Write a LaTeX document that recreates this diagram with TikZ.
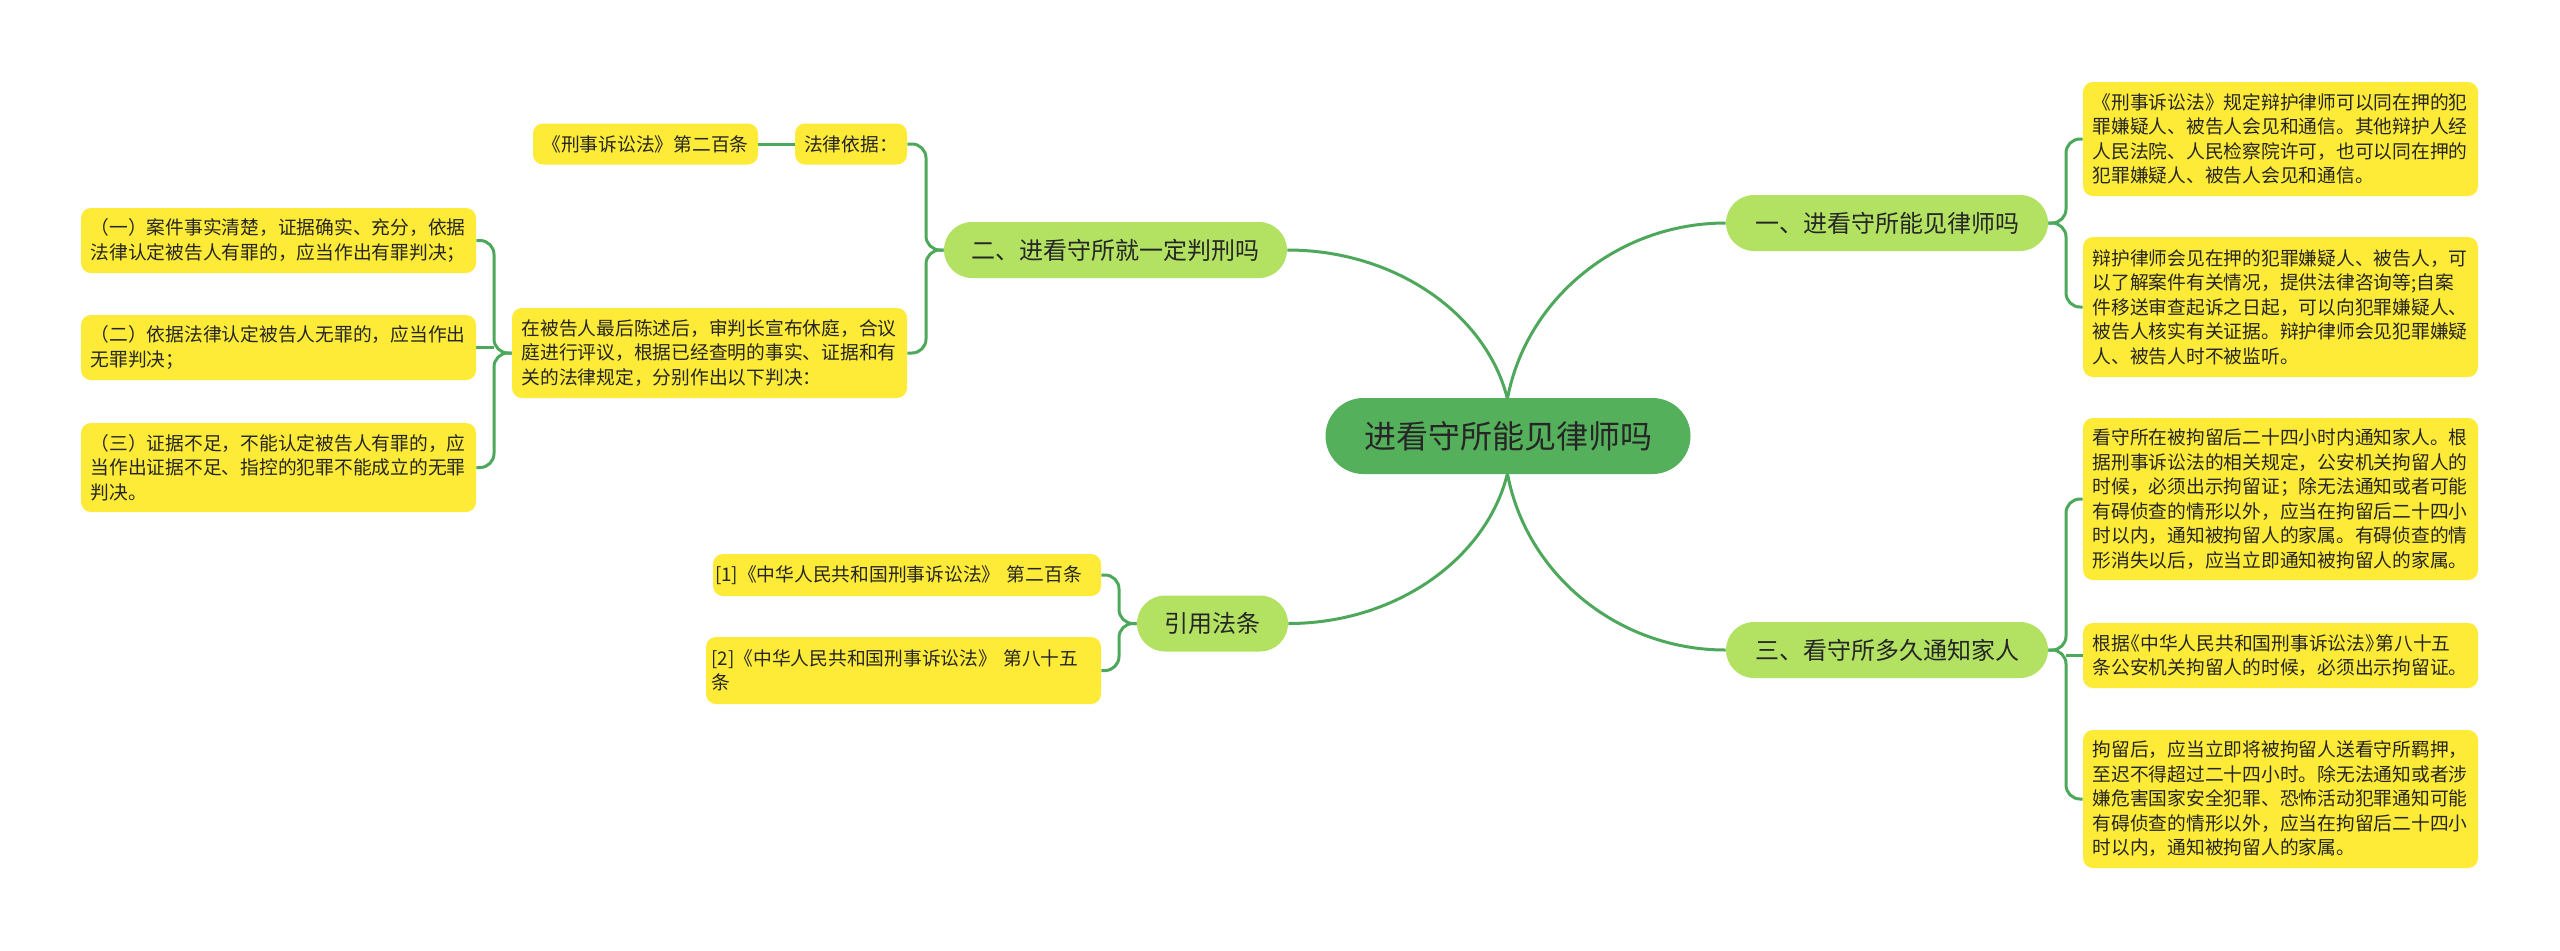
\documentclass[tikz,border=0pt]{standalone}
\usepackage{fontspec}
\setmainfont{Noto Sans CJK SC}
\usetikzlibrary{backgrounds}
\definecolor{leafY}{HTML}{FDEB37}
\definecolor{lvA}{HTML}{B3E263}
\definecolor{rootG}{HTML}{55B05C}
\definecolor{lineG}{HTML}{4EA85B}
\definecolor{txt}{HTML}{262626}
\newcommand\lbk{\makebox[0.55em][r]{《}}
\newcommand\rbk{\makebox[0.55em][l]{》}}
\newcommand\fleaf{\fontsize{9.375pt}{12.25pt}\selectfont}
\newcommand\flv{\fontsize{12pt}{14pt}\selectfont}
\newcommand\froot{\fontsize{16pt}{19pt}\selectfont}
\begin{document}
\begin{tikzpicture}[x=0.5pt,y=-0.5pt,
  root/.style={fill=rootG, rounded corners=19pt, minimum height=38pt, minimum width=182.5pt, inner sep=0pt, font=\froot, text=txt},
  lv/.style={fill=lvA, rounded corners=14pt, minimum height=28pt, inner sep=0pt, font=\flv, text=txt},
  leaf/.style={fill=leafY, rounded corners=5pt, text=txt, font=\fleaf, inner xsep=4.75pt, inner ysep=2pt, text width=188pt, align=left},
  leafs/.style={fill=leafY, rounded corners=5pt, text=txt, font=\fleaf, inner xsep=0pt, inner ysep=2pt},
  conn/.style={draw=lineG, line width=1.5pt},
  rc/.style={rounded corners=7pt}]
\useasboundingbox (0,0) rectangle (2560,950);

% root and main branches
\node[root] (c) at (1508,436) {进看守所能见律师吗};
\node[lv, minimum width=161pt] (b1) at (1887,223) {一、进看守所能见律师吗};
\node[lv, minimum width=161pt] (b3) at (1887,650) {三、看守所多久通知家人};
\node[lv, minimum width=171.5pt] (b2) at (1115.5,250) {二、进看守所就一定判刑吗};
\node[lv, minimum width=75.5pt] (b4) at (1212.5,623.5) {引用法条};

% right leaves
\node[leaf, minimum height=57pt] (r1) at (2280.5,139) {《刑事诉讼法》规定辩护律师可以同在押的犯\\罪嫌疑人、被告人会见和通信。其他辩护人经\\人民法院、人民检察院许可，也可以同在押的\\犯罪嫌疑人、被告人会见和通信。};
\node[leaf, minimum height=70pt] (r2) at (2280.5,307) {辩护律师会见在押的犯罪嫌疑人、被告人，可\\以了解案件有关情况，提供法律咨询等;自案\\件移送审查起诉之日起，可以向犯罪嫌疑人、\\被告人核实有关证据。辩护律师会见犯罪嫌疑\\人、被告人时不被监听。};
\node[leaf, minimum height=81pt] (r3) at (2280.5,499) {看守所在被拘留后二十四小时内通知家人。根\\据刑事诉讼法的相关规定，公安机关拘留人的\\时候，必须出示拘留证；除无法通知或者可能\\有碍侦查的情形以外，应当在拘留后二十四小\\时以内，通知被拘留人的家属。有碍侦查的情\\形消失以后，应当立即通知被拘留人的家属。};
\node[leaf, minimum height=32.5pt] (r4) at (2280.5,655.5) {根据\lbk 中华人民共和国刑事诉讼法\rbk 第八十五\\条公安机关拘留人的时候，必须出示拘留证。};
\node[leaf, minimum height=69pt] (r5) at (2280.5,799) {拘留后，应当立即将被拘留人送看守所羁押，\\至迟不得超过二十四小时。除无法通知或者涉\\嫌危害国家安全犯罪、恐怖活动犯罪通知可能\\有碍侦查的情形以外，应当在拘留后二十四小\\时以内，通知被拘留人的家属。};

% left side
\node[leafs, minimum width=112.5pt, minimum height=20.5pt] (l1) at (645.5,144) {《刑事诉讼法》第二百条};
\node[leafs, minimum width=56pt, minimum height=20.5pt] (l2) at (851,144) {法律依据：};
\node[leaf, minimum height=45pt] (l3) at (709.5,353) {在被告人最后陈述后，审判长宣布休庭，合议\\庭进行评议，根据已经查明的事实、证据和有\\关的法律规定，分别作出以下判决：};
\node[leaf, minimum height=32.5pt] (la) at (278.5,240.5) {（一）案件事实清楚，证据确实、充分，依据\\法律认定被告人有罪的，应当作出有罪判决；};
\node[leaf, minimum height=32.5pt] (lb) at (278.5,347.5) {（二）依据法律认定被告人无罪的，应当作出\\无罪判决；};
\node[leaf, minimum height=44.5pt] (lc) at (278.5,467.5) {（三）证据不足，不能认定被告人有罪的，应\\当作出证据不足、指控的犯罪不能成立的无罪\\判决。};
\node[leaf, text width=192pt, inner xsep=1pt, minimum height=21pt] (f1) at (907,575) {[1]《中华人民共和国刑事诉讼法》~第二百条};
\node[leaf, text width=192pt, inner xsep=2.75pt, minimum height=33.5pt] (f2) at (903.5,670.5) {[2]《中华人民共和国刑事诉讼法》~第八十五\\条};

% junctions
\coordinate (cl) at (1512,436);
\coordinate (cr) at (1504,436);
\coordinate (jb1) at (2066,223);
\coordinate (jb3) at (2066,650);
\coordinate (jb2) at (926,250);
\coordinate (jl3) at (494,353);
\coordinate (jb4) at (1119,623.5);

\begin{pgfonlayer}{background}
\fill[white] (0,0) rectangle (2560,950);
\draw[conn] (cr) .. controls (1504,319) and (1604,223) .. (b1.west);
\draw[conn] (cr) .. controls (1504,554) and (1604,650) .. (b3.west);
\draw[conn] (cl) .. controls (1512,334) and (1411,250) .. (b2.east);
\draw[conn] (cl) .. controls (1512,539) and (1411,623.5) .. (b4.east);

\draw[conn,rc] (b1.east) -- (jb1) |- (r1.west);
\draw[conn,rc] (b1.east) -- (jb1) |- (r2.west);
\draw[conn,rc] (b3.east) -- (jb3) |- (r3.west);
\draw[conn,rc] (b3.east) -- (jb3) |- (r5.west);
\draw[conn] (r4.west) -- (r4.west -| jb3);

\draw[conn,rc] (b2.west) -- (jb2) |- (l2.east);
\draw[conn,rc] (b2.west) -- (jb2) |- (l3.east);
\draw[conn] (l2.west) -- (l1.east);

\draw[conn,rc] (l3.west) -- (jl3) |- (la.east);
\draw[conn,rc] (l3.west) -- (jl3) |- (lc.east);
\draw[conn] (lb.east) -- (lb.east -| jl3);

\draw[conn,rc] (b4.west) -- (jb4) |- (f1.east);
\draw[conn,rc] (b4.west) -- (jb4) |- (f2.east);
\end{pgfonlayer}
\end{tikzpicture}
\end{document}
